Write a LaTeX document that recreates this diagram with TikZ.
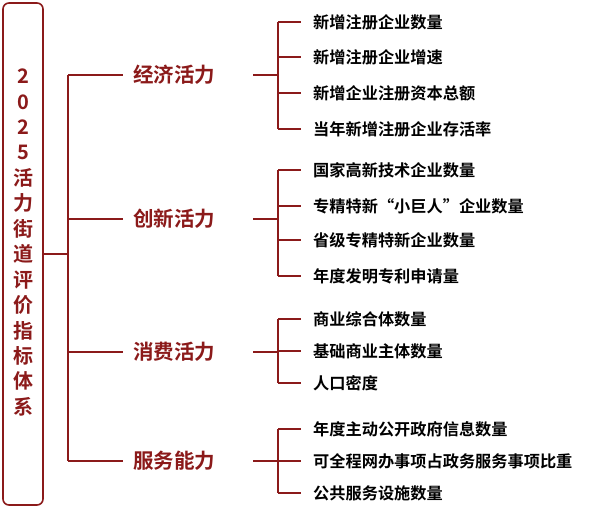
\documentclass[tikz,border=0pt]{standalone}
\usepackage{fontspec}
\setmainfont{Noto Sans CJK SC}[BoldFont={Noto Sans CJK SC Bold}]
\definecolor{treered}{HTML}{8B1A1A}
\tikzset{tree/.style={draw=treered,line width=1.6pt},
  catlabel/.style={font=\bfseries\fontsize{20.5}{22}\selectfont,text=treered,inner sep=0pt,anchor=west},
  leaflabel/.style={font=\bfseries\fontsize{16.2}{18}\selectfont,inner sep=0pt,anchor=west}}
\newcommand{\catnode}[3]{\node[catlabel] at (133,#1) (#2) {#3}}
\newcommand{\leafnode}[3]{\node[leaflabel] at (313,#1) (#2) {#3}}
\begin{document}
\begin{tikzpicture}[x=1pt,y=-1pt]
	\useasboundingbox (0,0) rectangle (600,509);
	\node[draw=treered,line width=1.6pt,rounded corners=6pt,minimum width=40pt,minimum height=502pt,inner sep=0pt] at (23,254) (box) {};
	\foreach \ch [count=\i] in {2,0,2,5,活,力,街,道,评,价,指,标,体,系}
		\node[font=\bfseries\fontsize{20}{21}\selectfont,text=treered,inner sep=0pt] at (23,{51+25.4*\i}) {\ch};
	\coordinate (trunk) at (68,254);
	\coordinate (sub) at (278,0);
	\catnode{75}{eco}{经济活力};
	\catnode{219}{inno}{创新活力};
	\catnode{352}{cons}{消费活力};
	\catnode{461}{serv}{服务能力};
	\leafnode{22}{e1}{新增注册企业数量};
	\leafnode{57}{e2}{新增注册企业增速};
	\leafnode{93}{e3}{新增企业注册资本总额};
	\leafnode{129}{e4}{当年新增注册企业存活率};
	\leafnode{170}{i1}{国家高新技术企业数量};
	\leafnode{206}{i2}{专精特新“小巨人”企业数量};
	\leafnode{240}{i3}{省级专精特新企业数量};
	\leafnode{276}{i4}{年度发明专利申请量};
	\leafnode{319}{c1}{商业综合体数量};
	\leafnode{351}{c2}{基础商业主体数量};
	\leafnode{383}{c3}{人口密度};
	\leafnode{429}{s1}{年度主动公开政府信息数量};
	\leafnode{461}{s2}{可全程网办事项占政务服务事项比重};
	\leafnode{493}{s3}{公共服务设施数量};
	\draw[tree] (box.east |- trunk) -- (trunk);
	\draw[tree] (trunk |- eco) -- (trunk |- serv);
	\foreach \c/\first/\last in {eco/e1/e4,inno/i1/i4,cons/c1/c3,serv/s1/s3}{
		\draw[tree] (trunk |- \c) -- ([xshift=-10pt]\c.west);
		\draw[tree] ([xshift=38pt]\c.east) -- (sub |- \c);
		\draw[tree] (sub |- \first) -- (sub |- \last);
	}
	\foreach \l in {e1,e2,e3,e4,i1,i2,i3,i4,c1,c2,c3,s1,s2,s3}
		\draw[tree] (sub |- \l) -- ([xshift=-12pt]\l.west);
\end{tikzpicture}
\end{document}
